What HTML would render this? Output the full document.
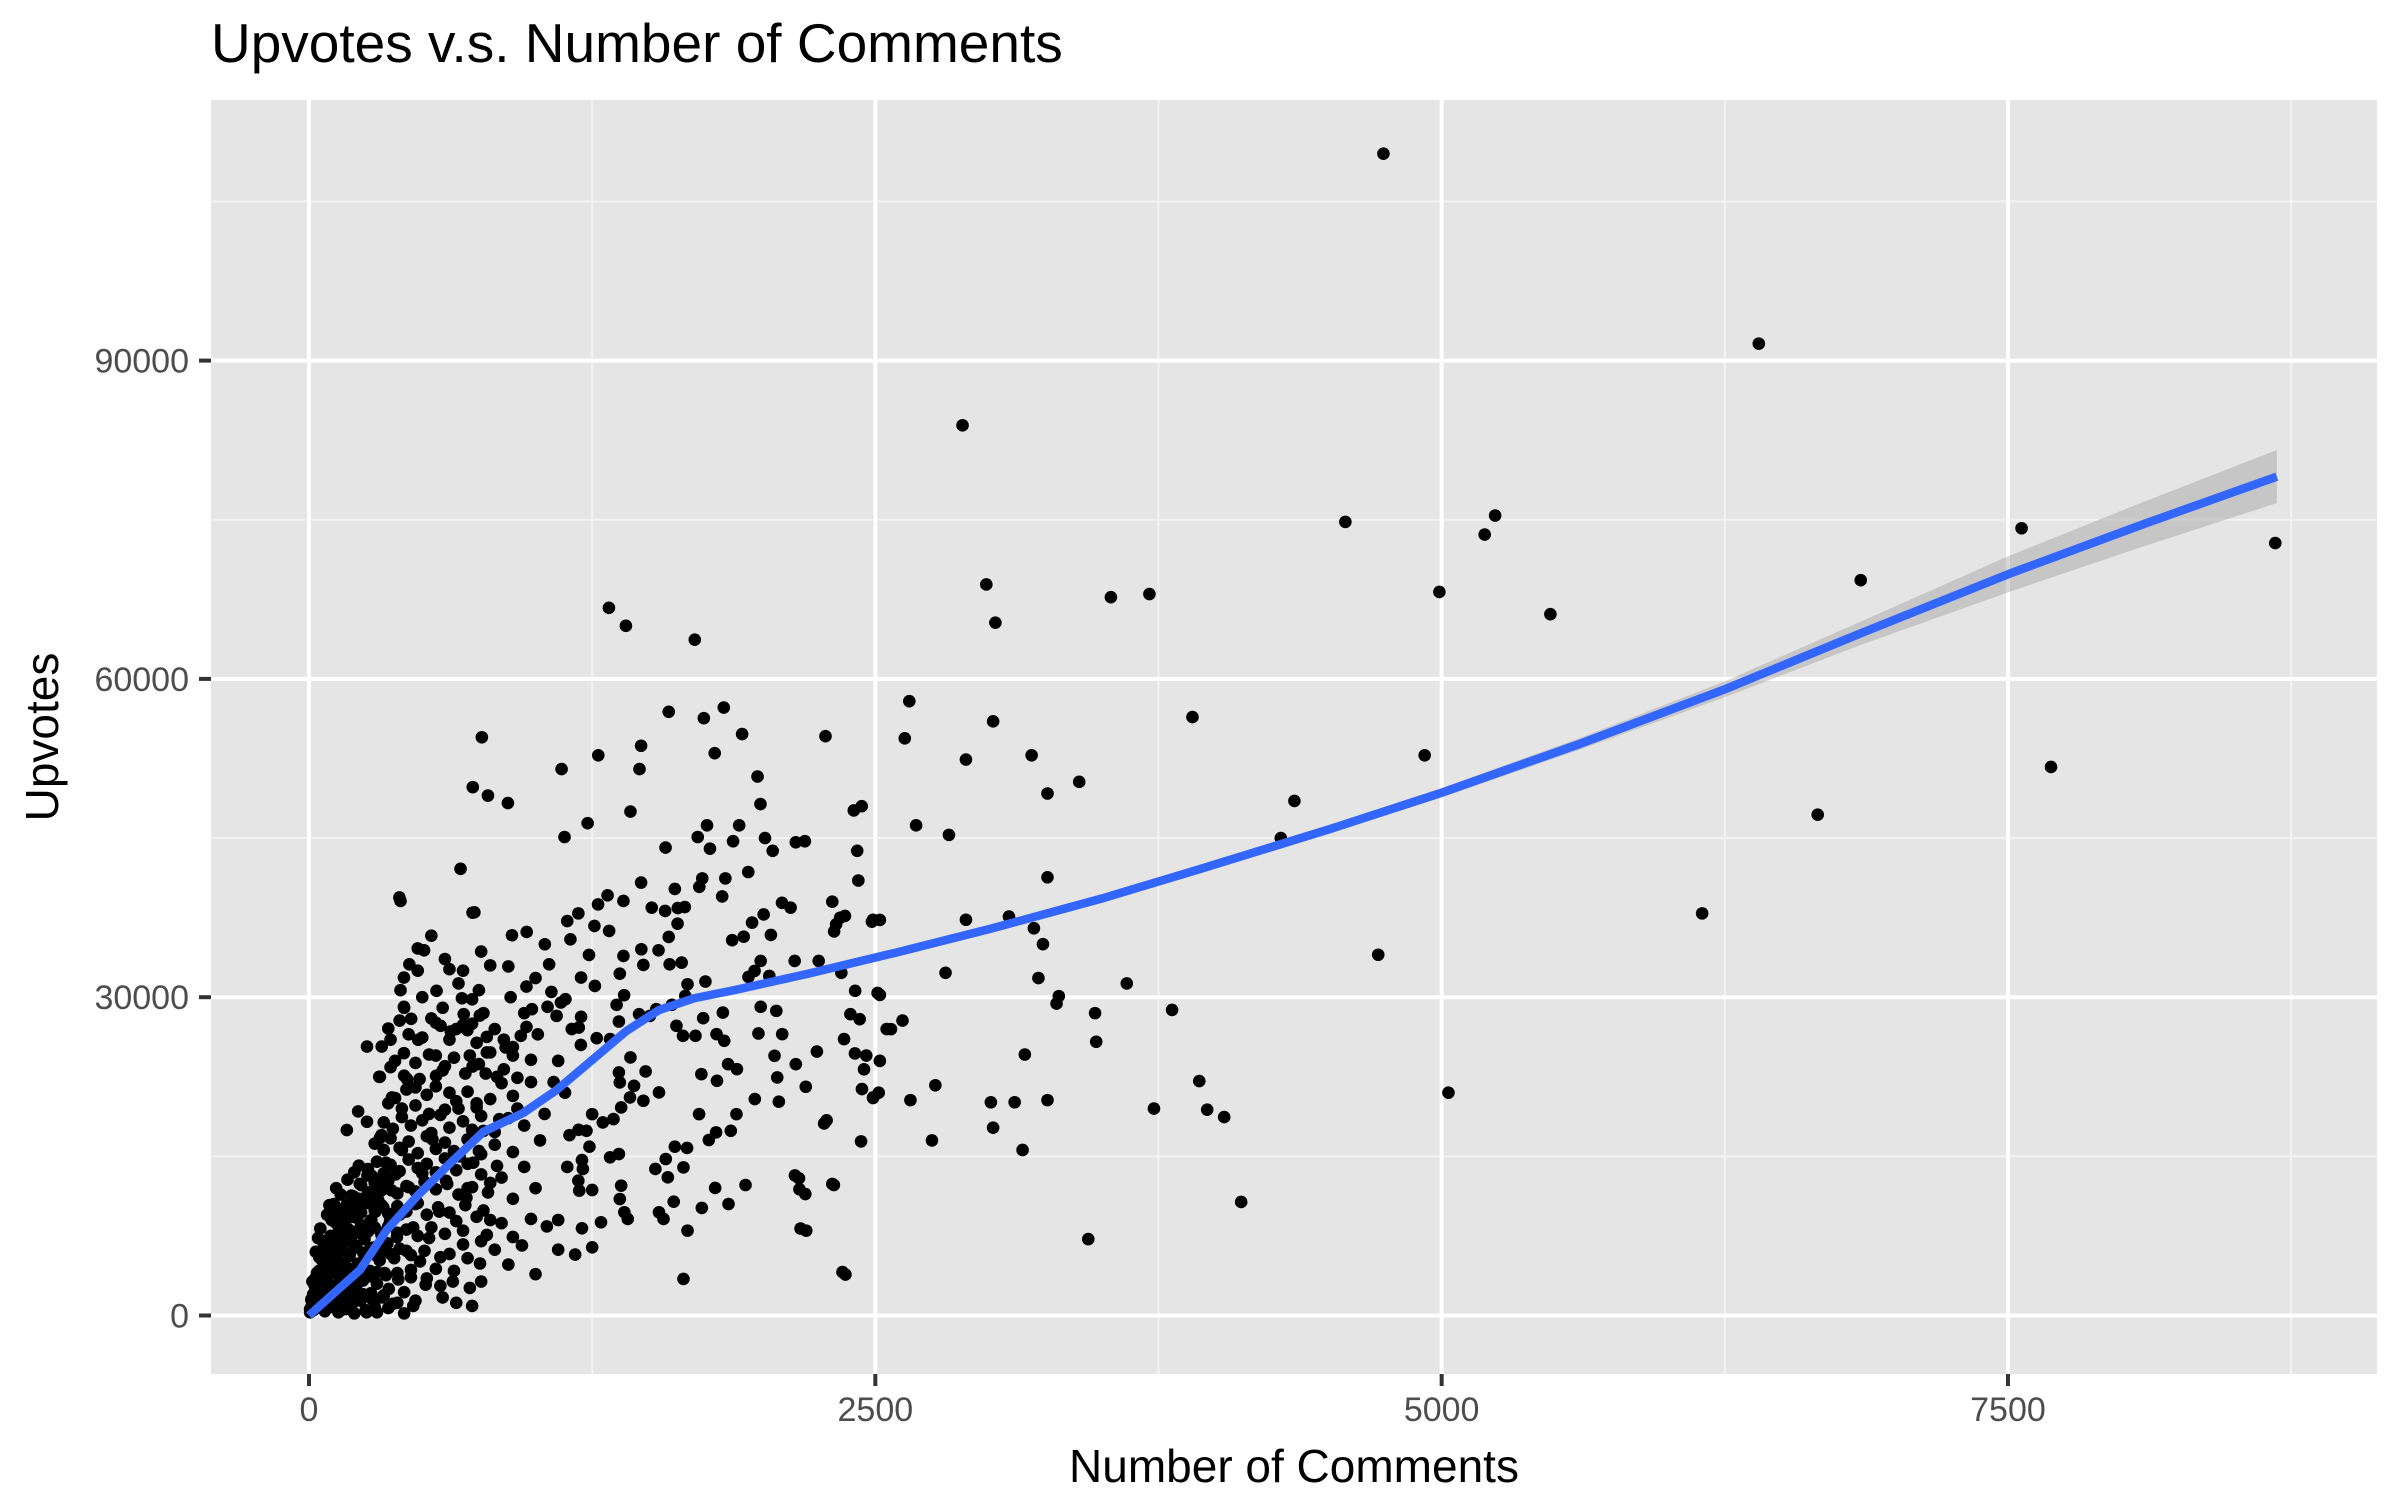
<!DOCTYPE html>
<html><head><meta charset="utf-8"><style>
html,body{margin:0;padding:0;background:#fff;}
svg{display:block;font-family:"Liberation Sans",Arial,sans-serif;}
</style></head><body>
<svg id="chart" width="2400" height="1500" viewBox="0 0 2400 1500" xmlns="http://www.w3.org/2000/svg">
<rect x="0" y="0" width="2400" height="1500" fill="#fff"/>
<rect x="211" y="100" width="2166" height="1274" fill="#e5e5e5"/>
<g id="grid"></g><g id="band"></g><g id="pts"></g><g id="line"></g><g id="axes"></g>
<text x="211" y="62" font-size="55" fill="#000">Upvotes v.s. Number of Comments</text>
<text x="1294" y="1482" font-size="46" text-anchor="middle" fill="#000">Number of Comments</text>
<text transform="translate(58,737) rotate(-90)" font-size="46" text-anchor="middle" fill="#000">Upvotes</text>
</svg>
<script>
const xTicks=[0,2500,5000,7500];
const xMinor=[1250,3750,6250,8750];
const yTicks=[0,30000,60000,90000];
const yMinor=[15000,45000,75000,105000];
const comments=[4743,6400,2885,7560,8680,4575,5236,5190,4990,5480,6850,7690,6660,6150,4720,5030,4115,4040,3965,3930,3730,3810,3610,3470,3475,3440,3710,3540,2990,3030,3020,2900,3190,3900,4925,4350,4290,3400,3260,2650,2630,2280,2825,2680,3260,2900,3090,3200,3240,3310,3300,3220,2810,3115,3010,3020,3150,3260,3160,2750,2765,2655,2620,2550,2510,2490,2425,2420,2405,2440,2345,2318,2310,2350,2515,2460,2355,2310,2170,2145,2165,2285,2410,2390,2450,2490,
404,722,896,961,508,443,419,404,419,451,350,256,321,419,482,313,366,217,167,256,313,220,276,187,89,433,488,561,620,563,675,750,683,754,581,626,699,785,722,785,868,935,984,1053,1112,1093,1041,1140,1154,1260,1325,1236,1388,1467,1476,1372,1262,1201,1132,1201,1191,1270,1358,1391,1368,1329,1457,1505,1419,1368,1486,1545,1476,1417,1372,1435,1378,1344,1297,1250,1225,1238,1205,1209,1189,1193,1250,1289,1205,1250,1175,1378,1372,1392,1407,1329,1368,1529,1584,1575,1615,1669,1653,1610,1545,1565,1671,1653,1734,1793,1852,1927,1862,1887,1797,1765,1722,1732,1801,1850,1889,1968,2074,2067,2055,2149,2193,2242,2274,2163,2191,2195,2317,2368,2437,2441,2490,2520,2431,2411,2520,2362,2569,2327,2366,2485,2520,2126,2250,2144,2032,1967,1940,1994,2039,1956,1868,2063,1994,2089,1984,1827,1833,1799,1740,1706,1651,1622,1661,1602,1533,1671,1750,1592,1645,1543,1588,1572,1513,1627,1659,1276,1388,
380,430,470,520,560,600,650,700,740,800,850,900,330,370,410,450,500,540,580,620,680,720,760,820,880,950,290,330,360,400,440,480,520,560,600,640,700,760,820,900,260,300,330,360,400,440,480,520,560,600,650,700,760,830,230,260,290,320,350,390,430,470,510,560,610,660,720,790,200,230,260,290,320,350,390,430,470,520,570,620,690,770,170,200,230,260,290,320,350,390,430,480,540,600,680,150,180,210,240,270,300,330,360,400,450,510,580,120,150,180,210,240,270,300,340,390,450,520,60,90,120,150,180,210,240,280,330,390,460,20,40,70,100,130,160,200,250,300,350,420,
10,25,35,45,55,65,75,85,95,105,115,125,135,145,30,50,80,15,60,110,140,170,200,120,90,5,40,100,155,190,220,165,185,215,245,275,305,335,580,640,700,760,820,880,940,1000,650,720,760,850,900,980,1050,1100,
310,360,420,470,530,590,640,690,750,800,860,920,980,500,560,620,680,740,820,900,960,400,720,660,600,760,880,540,1000,1060,723,763,790,878,669,730,399,480,
1324,1399,1703,1588,1831,1743,1912,1466,1277,1115,1459,1791,1980,1993,1757,1899,1872,2013,2149,2189,2047,1230,1128,1419,1574,1716,1770,1838,1939,1736,1466,1615,1318,1189,1628,1723,1824,2088,2007,1919,
5,12,18,22,28,32,38,44,48,52,58,62,66,72,76,82,86,92,96,102,106,112,118,122,128,132,138,142,148,152,158,162,168,172,178,182,188,192,198,202,208,212,218,224,228,234,238,244,248,254,258,264,268,274,278,284,290,294,300,305,312,318,322,328,334,340,346,352,358,364,370,376,382,388,394,400,410,420,430,440,450,460,470,480,490,500,515,530,545,560,575,590,605,620,635,650,665,680,695,710,725,740,755,770,785,800,
320,350,380,410,440,470,500,530,560,590,620,650,680,710,740,770,800,830,860,890,920,950,980,1010,1040,1070,1100,1130,1160,1190,360,420,480,540,600,660,720,780,840,900,960,1020,1080,1140,1200,700,750,800,850,900,950,1000,1100,1150];
const upvotes=[109500,91600,83900,74200,72800,74800,75400,73600,68200,66100,69300,51700,47200,37900,34000,21000,10700,18700,19400,22100,19500,28800,31300,28500,25800,7200,68000,67700,68900,65300,56000,52400,52800,56400,52800,48500,45000,50300,49200,57900,54400,54600,45300,46200,41300,37300,37600,36500,35000,30100,29400,31800,32300,20100,20100,17700,15600,20300,24600,16500,21700,20300,27800,27000,30400,37300,41000,43800,47600,48000,37500,36200,39000,32300,21000,24500,4100,12400,8200,13200,11900,18400,24700,28400,23200,20500,
39070,37970,35840,36150,34420,33100,31850,30660,29090,27960,27050,25350,25350,24730,25980,22500,20550,19240,17480,18260,16730,14120,13180,11300,9630,22280,22280,22590,32640,30600,29900,30660,28400,28270,27300,26770,26890,26260,23470,24790,25260,26360,28870,29090,29500,28240,34990,37180,35460,36720,36250,33980,33890,34520,33040,32220,31060,31850,29810,28150,27140,26140,29280,30190,27710,26050,28400,28240,24320,22910,23000,21020,20240,20550,21970,21650,19610,18510,18200,18980,17410,15910,14650,13810,12710,11770,11830,8790,8220,6430,5740,12240,10980,9730,9100,14910,15220,13810,13020,14750,15910,15790,13960,10730,9730,9100,8000,3450,10140,12020,10510,12300,17410,18980,17260,16540,18980,22750,22120,23690,23220,20400,20150,22440,24480,23690,21560,24880,18100,12930,11450,8000,12300,3860,16410,21340,20550,24000,27930,30600,30220,26050,26990,36870,37660,37120,37280,38440,33420,33420,32010,32480,31910,33420,35870,37030,35370,28710,29090,26520,26580,28550,25890,26520,28020,26360,26360,27300,30120,29280,28870,31220,31480,33100,33260,34420,35680,38130,38440,36930,38500,38750,39070,
20500,21300,19800,20800,21600,19400,20200,21100,19600,20400,21900,20700,18200,17600,18700,17900,18400,17200,18900,17700,18300,17500,18800,17300,18600,17900,16200,15600,16700,15800,16400,15300,16900,15700,16300,15500,16600,15200,16100,15400,13800,14500,13400,14200,13600,14700,13900,14300,13500,14800,13700,14300,13300,14100,12300,11600,12500,11800,12700,11500,12200,11700,12600,11900,12400,11400,12100,11600,10200,9700,10600,9900,10400,9600,10300,9800,10500,9500,10200,9700,10400,9900,8200,7700,8500,7900,8300,7600,8400,7800,8100,7500,8300,7700,8000,6200,5700,6400,5900,6300,5600,6100,5800,6300,5700,6100,5500,4300,3800,4400,3900,4200,3700,4100,3800,4000,3600,3500,2200,1800,2300,1700,2100,1600,2000,1500,1900,1200,900,500,900,400,800,300,600,200,500,300,700,200,
1500,2800,4000,5500,3200,6800,4800,2600,7500,5600,8800,6500,9800,7600,6000,8200,9500,3200,7000,10500,11400,12800,13500,12000,10400,600,7300,9000,4900,9300,11000,10400,3000,4800,7200,9000,10900,12900,2800,4200,5400,3200,6200,4800,6600,3900,1200,900,7000,8700,7400,9100,8400,6200,
22500,23400,22600,23800,24600,23100,24300,22800,23700,24800,23200,22400,24100,26200,27600,26000,27400,25700,27000,25300,27200,27800,29800,31300,33600,34300,32900,35800,31800,33100,49800,54500,49000,48300,42100,38000,39400,34600,
66700,65000,63700,56900,57300,56300,54800,53700,52800,51500,51500,53000,50800,48200,46200,46200,44700,45000,44600,44700,43800,46400,45100,47500,44100,45100,44000,41200,41800,41200,40800,40200,39600,37900,38400,40400,39500,38900,37800,35700,
300,900,2000,1200,3500,700,2400,4200,1600,3000,5200,2000,600,3800,6000,1100,4600,2900,6800,1800,4000,7400,2600,5300,900,8200,3400,6100,1500,9000,4400,7100,2200,10000,5600,8000,1000,3600,11200,6600,2700,9200,4900,12400,1400,7700,3300,10600,5900,300,13200,8700,4200,2100,11600,6400,800,9800,3000,12800,5200,7800,1700,10200,4000,14400,6800,2500,8900,11800,1100,5400,13300,7400,3400,9500,15600,2200,6100,12100,4300,8300,1400,10600,5100,13400,2900,7300,16600,4400,9800,1700,12700,5800,3200,8900,15000,6700,11100,2600,14400,9300,4900,17400,7600,12500,
17000,20000,24000,19500,26500,21500,30000,19000,24500,29000,21000,27000,32500,24500,20000,28500,33000,22500,26000,30000,19500,28500,22000,26500,19000,30500,24000,21000,27000,17500,26000,29000,32500,28000,23500,19500,27500,22800,18500,24500,31000,16500,22000,14000,25500,12000,15500,9000,13000,11000,14000,12000,9000,17000];
const smoothX=[0,225,343,475,608,770,945,1093,1250,1400,1545,1700,1880,2200,2585,3000,3500,3933,4500,5000,5600,6250,6850,7500,8100,8687];
const smoothY=[0,4290,8060,11200,14030,17320,19080,21250,24080,26800,28790,29900,30680,32200,34170,36400,39300,42080,45800,49270,53800,59020,64300,69860,74600,79070];
const smoothSE=[500,450,400,400,400,400,400,400,400,400,400,400,400,400,400,400,400,400,400,450,550,750,1100,1700,2100,2500];

const X0=309,SX=0.22653,Y0=1315.5,SY=0.01061;
function xs(v){return X0+v*SX;}
function ys(v){return Y0-v*SY;}
const NS='http://www.w3.org/2000/svg';
function mk(tag,attrs,parent){const e=document.createElementNS(NS,tag);for(const k in attrs)e.setAttribute(k,attrs[k]);document.getElementById(parent).appendChild(e);return e;}
const L=211,R=2377,T=100,B=1374;
yMinor.forEach(v=>{const e=mk('line',{x1:L,x2:R,y1:ys(v),y2:ys(v),stroke:'#f2f2f2','stroke-width':2},'grid');

});
xMinor.forEach(v=>{const e=mk('line',{x1:xs(v),x2:xs(v),y1:T,y2:B,stroke:'#f2f2f2','stroke-width':2},'grid');

});
yTicks.forEach(v=>{const e=mk('line',{x1:L,x2:R,y1:ys(v),y2:ys(v),stroke:'#fff','stroke-width':4},'grid');


const t=mk('line',{x1:199,x2:211,y1:ys(v),y2:ys(v),stroke:'#333','stroke-width':4},'axes');


const l=mk('text',{x:189,y:ys(v)+12,'font-size':34,'text-anchor':'end',fill:'#4d4d4d'},'axes');l.textContent=v;

});
xTicks.forEach(v=>{const e=mk('line',{x1:xs(v),x2:xs(v),y1:T,y2:B,stroke:'#fff','stroke-width':4},'grid');


const t=mk('line',{x1:xs(v),x2:xs(v),y1:B,y2:B+12,stroke:'#333','stroke-width':4},'axes');


const l=mk('text',{x:xs(v),y:1421,'font-size':34,'text-anchor':'middle',fill:'#4d4d4d'},'axes');l.textContent=v;

});
let up=smoothX.map((x,i)=>xs(x)+','+ys(smoothY[i]+smoothSE[i]));
let lo=smoothX.map((x,i)=>xs(x)+','+ys(Math.max(0,smoothY[i]-smoothSE[i]))).reverse();
const band=mk('polygon',{points:up.concat(lo).join(' '),fill:'#999','fill-opacity':0.4},'band');


for(let i=0;i<comments.length;i++){const c=mk('circle',{cx:xs(comments[i]),cy:ys(upvotes[i]),r:6.3,fill:'#000'},'pts');

}
const ln=mk('polyline',{points:smoothX.map((x,i)=>xs(x)+','+ys(smoothY[i])).join(' '),fill:'none',stroke:'#3366ff','stroke-width':8.5,'stroke-linejoin':'round'},'line');


</script>
</body></html>
